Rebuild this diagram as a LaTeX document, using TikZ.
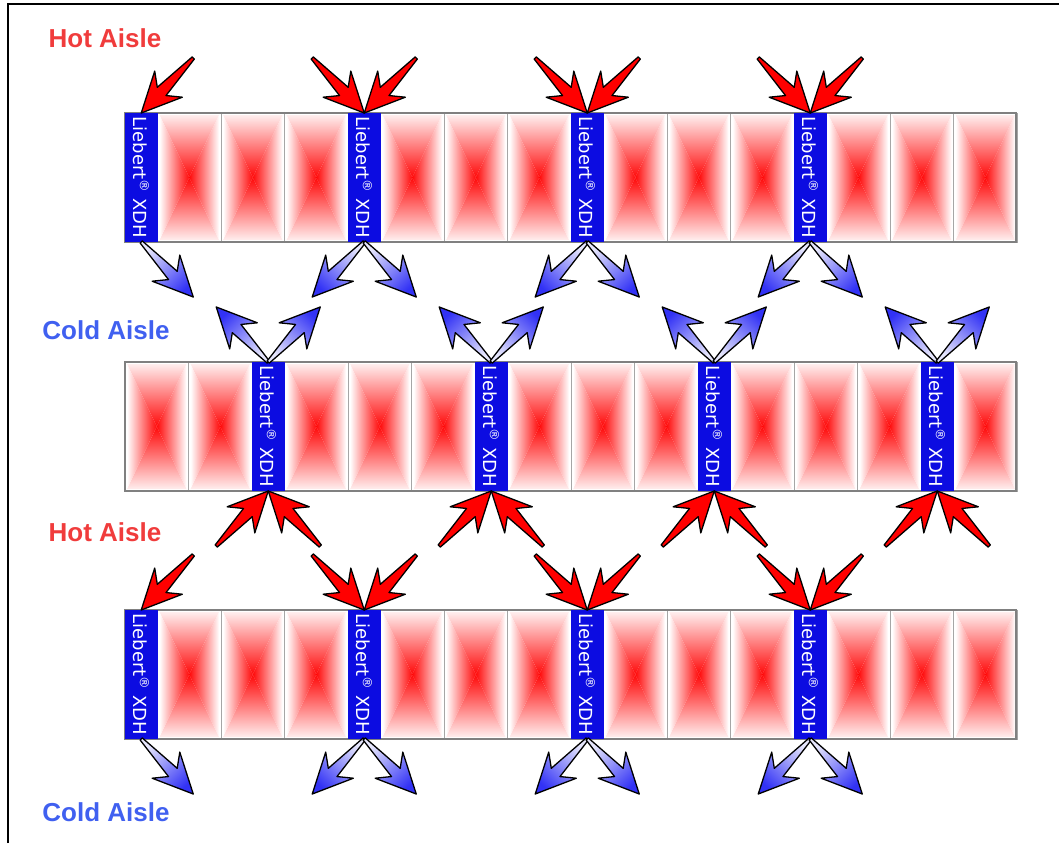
\documentclass[tikz,border=0pt]{standalone}
\usepackage{fontspec}
\setmainfont{Liberation Sans}
\newfontfamily\xdhfont{DejaVu Sans}
\usetikzlibrary{calc}

\definecolor{hotred}{RGB}{240,60,60}
\definecolor{coldblue}{RGB}{64,96,240}
\definecolor{xdhblue}{RGB}{12,12,225}
\definecolor{rackred}{RGB}{255,10,10}
\definecolor{rackpink}{RGB}{255,238,238}
\definecolor{flowtail}{RGB}{230,230,252}
\definecolor{flowhead}{RGB}{50,50,245}

\tikzset{
  xdh/.style={fill=xdhblue, rotate=-90, minimum width=129pt, minimum height=32.5pt,
    inner sep=0pt, outer sep=0pt, text=white, font=\xdhfont\fontsize{18}{18}\selectfont},
  aisle/.style={font=\bfseries\fontsize{26}{26}\selectfont},
  hotflow/.style={draw=black, line width=1.3pt, line join=round, fill=red},
  coldflow/.style={draw=black, line width=1.3pt, line join=round,
    top color=flowtail, bottom color=flowhead, shading angle=#1},
}

% one rack cabinet, left x and top y
\newcommand\rack[2]{%
  \begin{scope}[shift={(#1,#2)}]
    \shade[top color=rackpink, bottom color=rackred] (2,2) -- (61.5,2) -- (31.75,64.5) -- cycle;
    \shade[top color=rackred, bottom color=rackpink] (2,127) -- (61.5,127) -- (31.75,64.5) -- cycle;
    \shade[left color=white, right color=rackred] (2,2) -- (31.75,64.5) -- (2,127) -- cycle;
    \shade[left color=rackred, right color=white] (61.5,2) -- (31.75,64.5) -- (61.5,127) -- cycle;
    \draw[gray!70, line width=1pt] (0,0) rectangle (63.5,129);
  \end{scope}}

% air flow arrow from tail to tip
\newcommand\flow[3]{%
  \path (#2) coordinate (f0) (#3) coordinate (f1);
  \pgfmathanglebetweenpoints{\pgfpointanchor{f0}{center}}{\pgfpointanchor{f1}{center}}%
  \pgfmathsetmacro\flowangle{\pgfmathresult}%
  \pgfmathsetmacro\shadeangle{\flowangle+90}%
  \begin{scope}[shift={(f0)}, rotate=\flowangle]
    \path[#1=\shadeangle] (0,1.5) -- (46,6) -- (36,19) -- (75.7,0)
      -- (36,-19) -- (46,-6) -- (0,-1.5) -- cycle;
  \end{scope}}

\begin{document}
\begin{tikzpicture}[x=1pt, y=-1pt]
\useasboundingbox (0,0) rectangle (1059,843);
\draw[line width=2.5pt] (8,843) -- (8,4) -- (1059,4);

% racks and coolers
\foreach \g in {0,...,3} {
  \foreach \j in {0,1,2} {
    \rack{157.5+223*\g+63.5*\j}{113}
    \rack{157.5+223*\g+63.5*\j}{610}
  }
  \rack{125+223*\g}{362}
  \rack{188.5+223*\g}{362}
  \rack{284.5+223*\g}{362}
}
\draw[gray, line width=1.2pt] (125,113) rectangle (1016,242);
\draw[gray, line width=1.2pt] (125,362) rectangle (1016,491);
\draw[gray, line width=1.2pt] (125,610) rectangle (1016,739);
\foreach \g [count=\n] in {0,...,3} {
  \node[xdh] (u\n) at (141.25+223*\g, 177.5) {Liebert\textsuperscript{®} XDH};
  \node[xdh] (m\n) at (268.25+223*\g, 426.5) {Liebert\textsuperscript{®} XDH};
  \node[xdh] (l\n) at (141.25+223*\g, 674.5) {Liebert\textsuperscript{®} XDH};
}

% air flow
\flow{hotflow}{$(u1.west)+(52,-55)$}{u1.west}
\flow{coldflow}{u1.east}{$(u1.east)+(52,55)$}
\flow{hotflow}{$(l1.west)+(52,-55)$}{l1.west}
\flow{coldflow}{l1.east}{$(l1.east)+(52,55)$}
\foreach \n in {2,3,4} \foreach \s in {-1,1} {
  \flow{hotflow}{$(u\n.west)+(52*\s,-55)$}{u\n.west}
  \flow{coldflow}{u\n.east}{$(u\n.east)+(52*\s,55)$}
  \flow{hotflow}{$(l\n.west)+(52*\s,-55)$}{l\n.west}
  \flow{coldflow}{l\n.east}{$(l\n.east)+(52*\s,55)$}
}
\foreach \n in {1,...,4} \foreach \s in {-1,1} {
  \flow{coldflow}{m\n.west}{$(m\n.west)+(52*\s,-55)$}
  \flow{hotflow}{$(m\n.east)+(52*\s,55)$}{m\n.east}
}

\node[aisle, text=hotred] (hot1) at (105,38) {Hot Aisle};
\node[aisle, text=coldblue] (cold1) at (106,330) {Cold Aisle};
\node[aisle, text=hotred] (hot2) at (105,532) {Hot Aisle};
\node[aisle, text=coldblue] (cold2) at (106,812) {Cold Aisle};
\end{tikzpicture}
\end{document}
